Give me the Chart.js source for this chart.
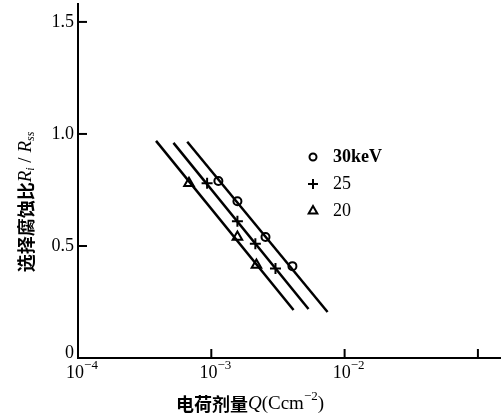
<!DOCTYPE html>
<html>
<head>
<meta charset="utf-8">
<script src="https://cdn.jsdelivr.net/npm/chart.js@4.4.0/dist/chart.umd.min.js"></script>
<style>
html, body { margin: 0; padding: 0; background: #fff; }
#wrap { width: 501px; height: 417px; }
</style>
</head>
<body>
<div id="wrap"><canvas id="grafico" width="501" height="417"></canvas></div>
<script>
// measured points: charge dose Q (C/cm²) vs selective etch ratio Ri/Rss
const q30 = [1.13e-3, 1.57e-3, 2.55e-3, 4.06e-3];
const r30 = [0.79, 0.70, 0.54, 0.41];
const q25 = [9.3e-4, 1.57e-3, 2.14e-3, 3.03e-3];
const r25 = [0.78, 0.61, 0.51, 0.40];
const q20 = [6.8e-4, 1.57e-3, 2.18e-3];
const r20 = [0.78, 0.54, 0.415];

// fitted straight lines (end points)
const fitQ30 = [6.6e-4, 7.45e-3];
const fitR30 = [0.965, 0.205];
const fitQ25 = [5.2e-4, 5.36e-3];
const fitR25 = [0.96, 0.219];
const fitQ20 = [3.85e-4, 4.14e-3];
const fitR20 = [0.969, 0.214];

const xTicks = [1e-4, 1e-3, 1e-2, 1e-1];
const xTickExp = ['-4', '-3', '-2', ''];
const yTicks = [0, 0.5, 1.0, 1.5];
const yTickLabels = ['0', '0.5', '1.0', '1.5'];

const legendNames = ['30keV', '25', '20'];
const legendStyles = ['circle', 'cross', 'triangle'];

const serif = '"Liberation Serif", "DejaVu Serif", serif';
const cjk = '"Noto Sans CJK SC", sans-serif';

const pts = (qs, rs) => qs.map((q, i) => ({ x: q, y: rs[i] }));

function lineSet(qs, rs) {
  return {
    data: pts(qs, rs), showLine: true, pointRadius: 0,
    borderColor: '#000', borderWidth: 2.5
  };
}
function markSet(qs, rs, style, r) {
  return {
    data: pts(qs, rs), showLine: false, pointStyle: style, pointRadius: r,
    borderColor: '#000', backgroundColor: '#fff', pointBorderWidth: 2
  };
}

// draws a row of text pieces (font/offset per piece)
function drawRuns(ctx, runs, x, y, align) {
  let w = 0;
  runs.forEach(r => { ctx.font = r.font; w += ctx.measureText(r.t).width; });
  let cx = align === 'center' ? x - w / 2 : (align === 'right' ? x - w : x);
  ctx.textBaseline = 'middle';
  ctx.textAlign = 'left';
  runs.forEach(r => {
    ctx.font = r.font;
    ctx.fillText(r.t, cx, y + (r.dy || 0));
    cx += ctx.measureText(r.t).width;
  });
}

const decor = {
  id: 'decor',
  afterDraw(chart) {
    const { ctx, chartArea, scales: { x, y } } = chart;
    ctx.save();
    ctx.fillStyle = '#000';
    ctx.strokeStyle = '#000';

    // y ticks point inward
    yTicks.forEach((v, i) => {
      const py = y.getPixelForValue(v);
      if (v > 0) {
        ctx.lineWidth = 2;
        ctx.beginPath();
        ctx.moveTo(chartArea.left, py);
        ctx.lineTo(chartArea.left + 9, py);
        ctx.stroke();
      }
      drawRuns(ctx, [{ t: yTickLabels[i], font: '18px ' + serif }], chartArea.left - 4, v === 0 ? py - 5 : py, 'right');
    });

    // x ticks point upward
    xTicks.forEach((v, i) => {
      const px = x.getPixelForValue(v);
      if (i > 0) {
        ctx.lineWidth = 2;
        ctx.beginPath();
        ctx.moveTo(px, chartArea.bottom);
        ctx.lineTo(px, chartArea.bottom - 9);
        ctx.stroke();
      }
      if (xTickExp[i]) {
        drawRuns(ctx, [
          { t: '10', font: '18px ' + serif, dy: 0 },
          { t: '\u2212' + xTickExp[i].slice(1), font: '13px ' + serif, dy: -7 }
        ], px + 4, chartArea.bottom + 15, 'center');
      }
    });

    // axis titles
    drawRuns(ctx, [
      { t: '电荷剂量', font: 'bold 18px ' + cjk },
      { t: 'Q', font: 'italic 19px ' + serif },
      { t: '(Ccm', font: '19px ' + serif },
      { t: '\u22122', font: '13px ' + serif, dy: -7 },
      { t: ')', font: '19px ' + serif }
    ], 250, 404, 'center');

    ctx.save();
    ctx.translate(26, 202);
    ctx.rotate(-Math.PI / 2);
    drawRuns(ctx, [
      { t: '选择腐蚀比', font: 'bold 18px ' + cjk },
      { t: 'R', font: 'italic 19px ' + serif },
      { t: 'i', font: 'italic 12px ' + serif, dy: 5 },
      { t: ' / ', font: '19px ' + serif },
      { t: 'R', font: 'italic 19px ' + serif },
      { t: 'ss', font: 'italic 12px ' + serif, dy: 5 }
    ], 0, 0, 'center');
    ctx.restore();

    // legend
    const radii = [3.5, 5, 5];
    legendNames.forEach((name, i) => {
      const ly = 157 + i * 27;
      ctx.lineWidth = 2;
      ctx.fillStyle = '#fff';
      Chart.helpers.drawPoint(ctx, {
        pointStyle: legendStyles[i], radius: radii[i], borderWidth: 2
      }, 313, ly);
      ctx.fillStyle = '#000';
      drawRuns(ctx, [{ t: name, font: (i === 0 ? 'bold ' : '') + '18px ' + serif }], 333, ly, 'left');
    });
    ctx.restore();
  }
};

const ctx = document.getElementById('grafico');
const grafico = new Chart(ctx, {
  type: 'scatter',
  data: {
    datasets: [
      lineSet(fitQ30, fitR30),
      lineSet(fitQ25, fitR25),
      lineSet(fitQ20, fitR20),
      markSet(q30, r30, 'circle', 4),
      markSet(q25, r25, 'cross', 5.5),
      markSet(q20, r20, 'triangle', 5.5)
    ]
  },
  options: {
    responsive: false,
    animation: false,
    layout: { autoPadding: false, padding: { left: 78, top: 4, right: 0, bottom: 59 } },
    plugins: { legend: { display: false }, tooltip: { enabled: false } },
    scales: {
      x: {
        type: 'logarithmic', min: 1e-4, max: 0.149,
        grid: { display: false, drawTicks: false },
        border: { display: true, color: '#000', width: 2 },
        ticks: { display: false }
      },
      y: {
        min: 0, max: 1.58,
        grid: { display: false, drawTicks: false },
        border: { display: true, color: '#000', width: 2 },
        ticks: { display: false }
      }
    }
  },
  plugins: [decor]
});
</script>
</body>
</html>
